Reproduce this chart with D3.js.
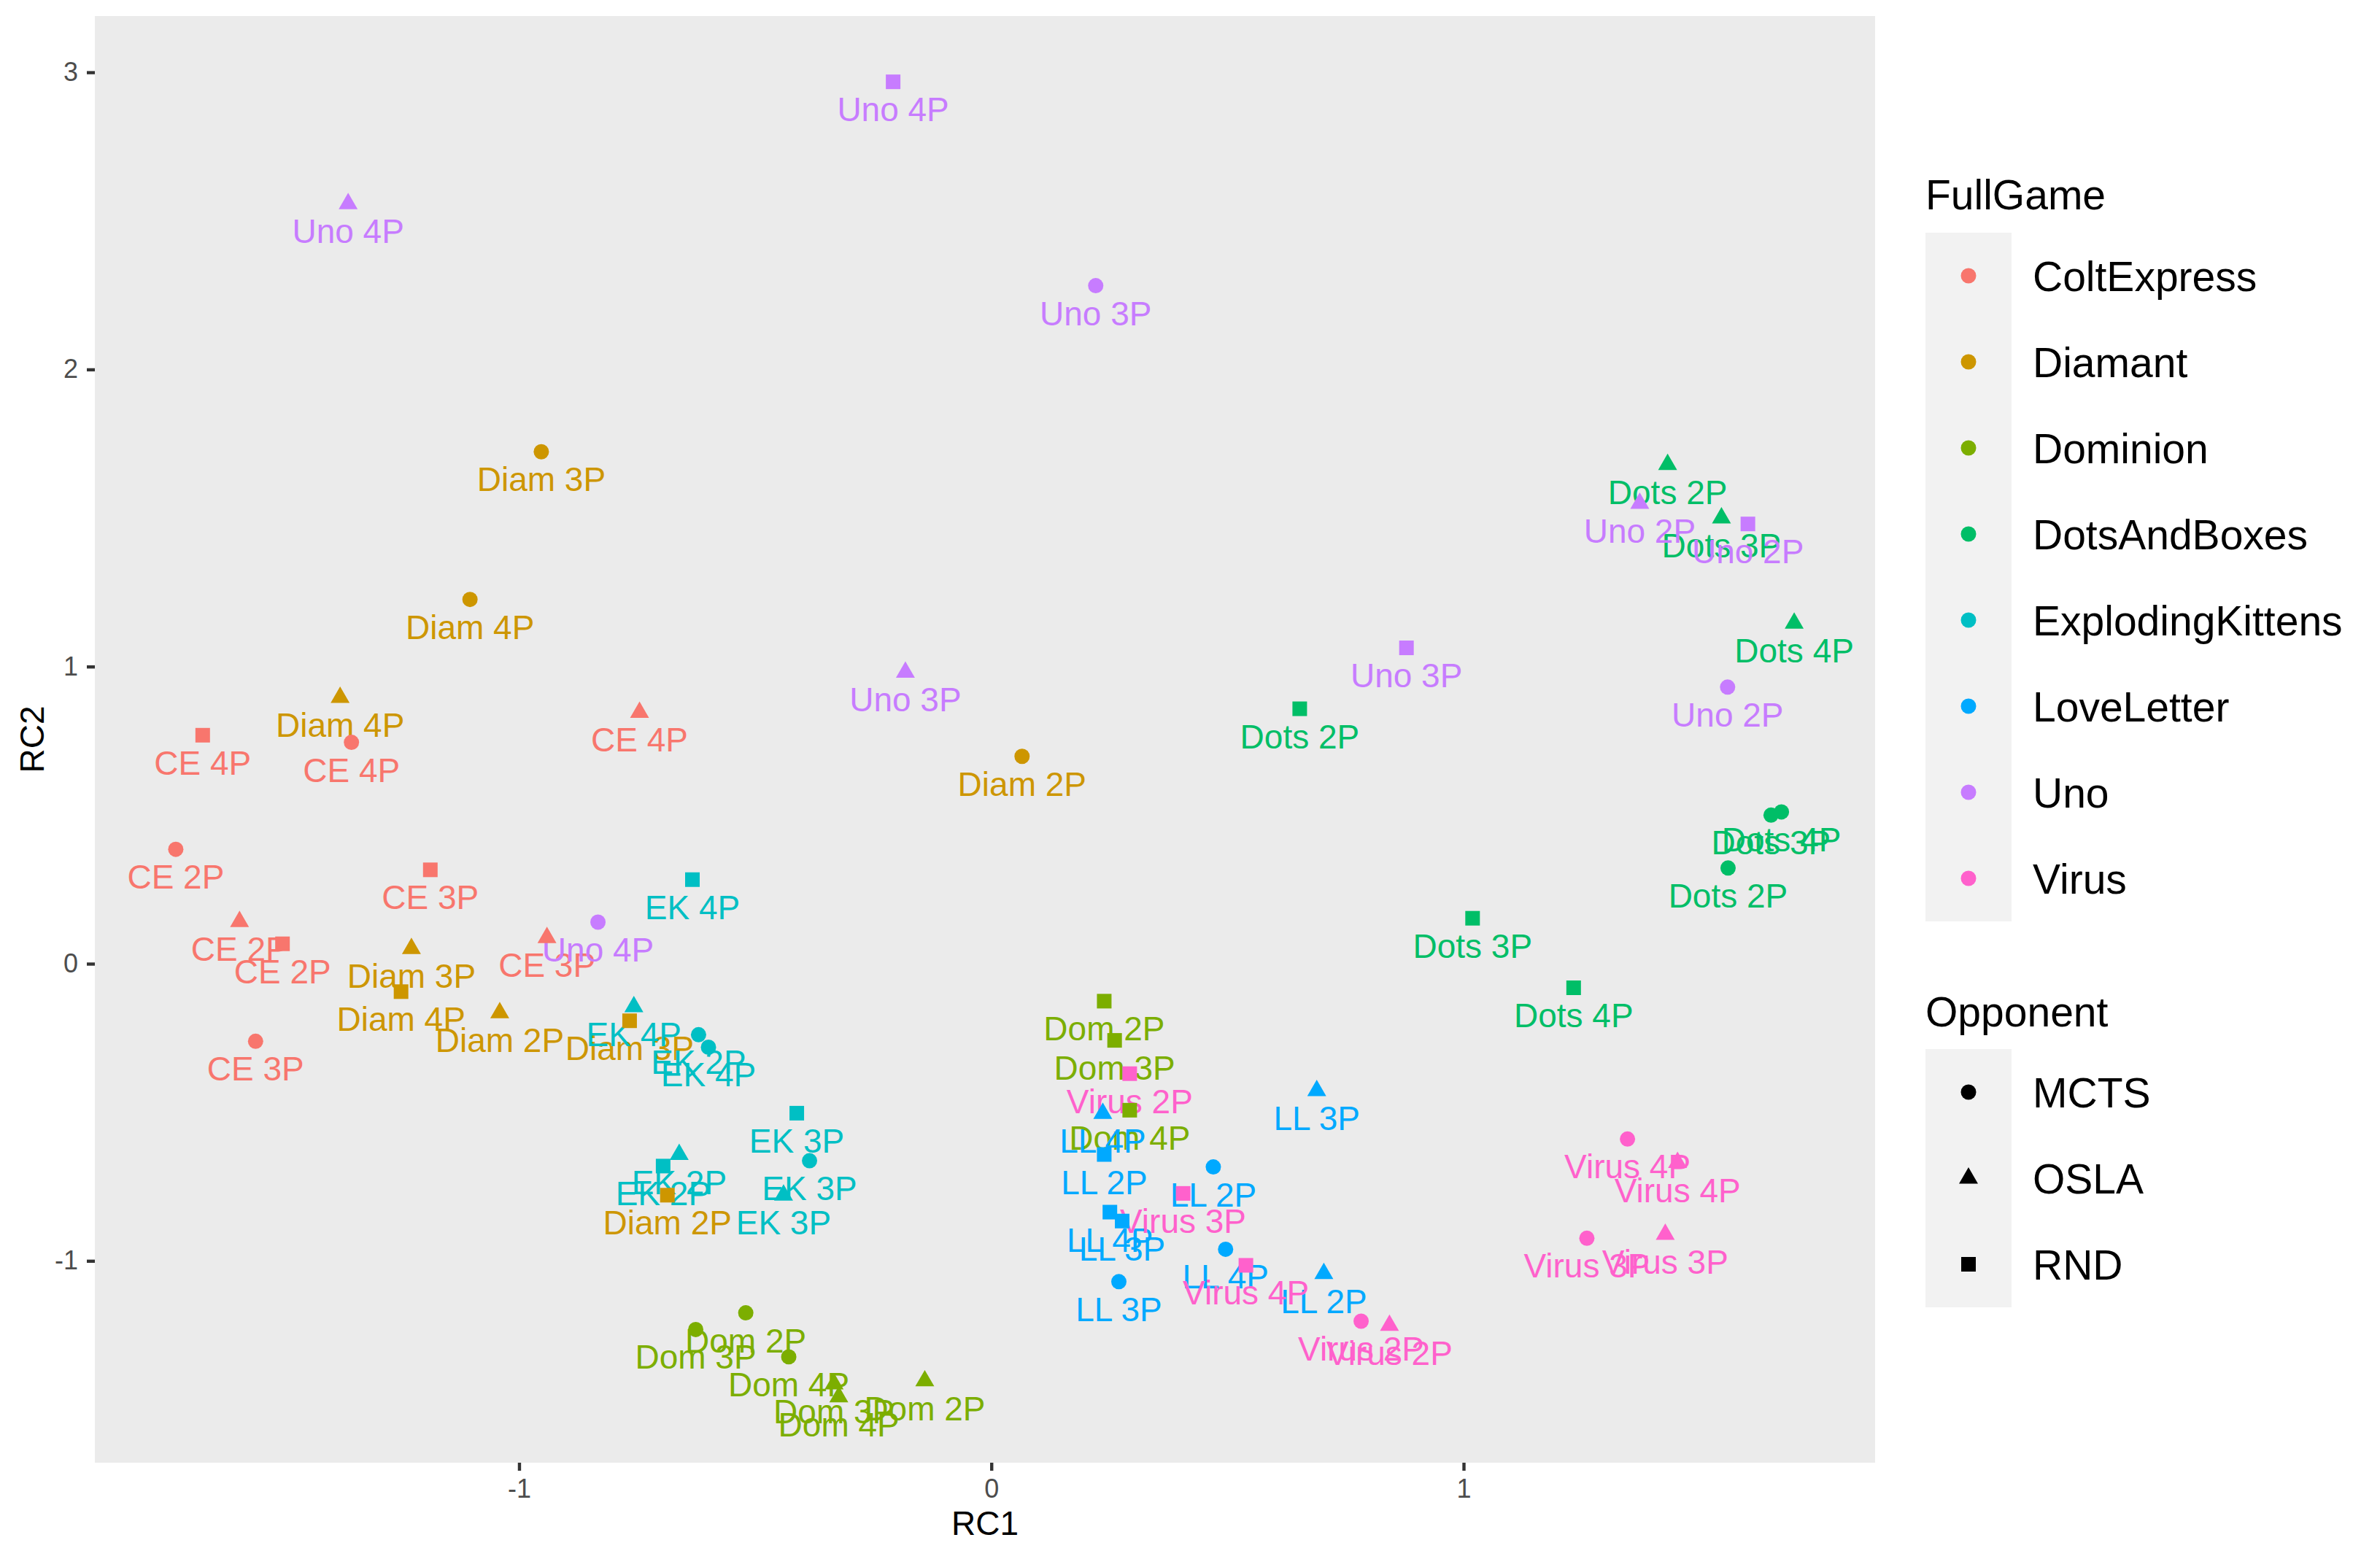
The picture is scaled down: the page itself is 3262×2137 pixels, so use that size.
<!DOCTYPE html>
<html>
<head>
<meta charset="utf-8">
<script src="https://cdn.jsdelivr.net/npm/d3@7"></script>
<style>
  html, body { margin: 0; padding: 0; background: #ffffff; }
  svg { display: block; }
  text { font-family: "Liberation Sans", Arial, sans-serif; }
</style>
</head>
<body>
<svg id="chart" width="3262" height="2137"></svg>
<script>
// ---------- data ----------
const games = ["ColtExpress", "Diamant", "Dominion", "DotsAndBoxes", "ExplodingKittens", "LoveLetter", "Uno", "Virus"];
const gameAbbr = ["CE", "Diam", "Dom", "Dots", "EK", "LL", "Uno", "Virus"];
const gameColors = ["#F8766D", "#CD9600", "#7CAE00", "#00BE67", "#00BFC4", "#00A9FF", "#C77CFF", "#FF61CC"];
const opponents = ["MCTS", "OSLA", "RND"];

// one entry per point
const pointGame = [
  "ColtExpress","ColtExpress","ColtExpress","ColtExpress","ColtExpress","ColtExpress","ColtExpress","ColtExpress","ColtExpress",
  "Diamant","Diamant","Diamant","Diamant","Diamant","Diamant","Diamant","Diamant","Diamant",
  "Dominion","Dominion","Dominion","Dominion","Dominion","Dominion","Dominion","Dominion","Dominion",
  "DotsAndBoxes","DotsAndBoxes","DotsAndBoxes","DotsAndBoxes","DotsAndBoxes","DotsAndBoxes","DotsAndBoxes","DotsAndBoxes","DotsAndBoxes",
  "ExplodingKittens","ExplodingKittens","ExplodingKittens","ExplodingKittens","ExplodingKittens","ExplodingKittens","ExplodingKittens","ExplodingKittens","ExplodingKittens",
  "LoveLetter","LoveLetter","LoveLetter","LoveLetter","LoveLetter","LoveLetter","LoveLetter","LoveLetter","LoveLetter",
  "Uno","Uno","Uno","Uno","Uno","Uno","Uno","Uno","Uno",
  "Virus","Virus","Virus","Virus","Virus","Virus","Virus","Virus","Virus"
];
const pointOpponent = [
  "MCTS","MCTS","MCTS","OSLA","OSLA","OSLA","RND","RND","RND",
  "MCTS","MCTS","MCTS","OSLA","OSLA","OSLA","RND","RND","RND",
  "MCTS","MCTS","MCTS","OSLA","OSLA","OSLA","RND","RND","RND",
  "MCTS","MCTS","MCTS","OSLA","OSLA","OSLA","RND","RND","RND",
  "MCTS","MCTS","MCTS","OSLA","OSLA","OSLA","RND","RND","RND",
  "MCTS","MCTS","MCTS","OSLA","OSLA","OSLA","RND","RND","RND",
  "MCTS","MCTS","MCTS","OSLA","OSLA","OSLA","RND","RND","RND",
  "MCTS","MCTS","MCTS","OSLA","OSLA","OSLA","RND","RND","RND"
];
const pointPlayers = [
  2,3,4,2,3,4,2,3,4, 2,3,4,2,3,4,2,3,4, 2,3,4,2,3,4,2,3,4, 2,3,4,2,3,4,2,3,4,
  2,3,4,2,3,4,2,3,4, 2,3,4,2,3,4,2,3,4, 2,3,4,2,3,4,2,3,4, 2,3,4,2,3,4,2,3,4
];
const rc1 = [
  -1.727, -1.558, -1.355, -1.592, -0.941, -0.745, -1.501, -1.188, -1.670,
   0.065, -0.953, -1.104, -1.041, -1.228, -1.379, -0.686, -0.766, -1.250,
  -0.520, -0.626, -0.429, -0.141, -0.333, -0.323,  0.239,  0.261,  0.293,
   1.560,  1.651,  1.673,  1.432,  1.546,  1.700,  0.653,  1.019,  1.233,
  -0.620, -0.385, -0.599, -0.661, -0.440, -0.757, -0.695, -0.412, -0.633,
   0.470,  0.270,  0.496,  0.704,  0.689,  0.236,  0.239,  0.277,  0.251,
   1.559,  0.221, -0.833,  1.373, -0.182, -1.362,  1.602,  0.879, -0.208,
   0.783,  1.261,  1.347,  0.843,  1.427,  1.453,  0.293,  0.406,  0.539
];
const rc2 = [
   0.385, -0.261,  0.745,  0.142,  0.088,  0.846,  0.067,  0.316,  0.769,
   0.698,  1.723,  1.226, -0.165,  0.051,  0.896, -0.779, -0.192, -0.094,
  -1.175, -1.231, -1.323, -1.404, -1.414, -1.458, -0.126, -0.258, -0.493,
   0.322,  0.500,  0.511,  1.680,  1.500,  1.146,  0.858,  0.153, -0.081,
  -0.239, -0.663, -0.281, -0.642, -0.779, -0.145, -0.681, -0.503,  0.283,
  -0.684, -1.070, -0.961, -1.043, -0.427, -0.504, -0.642, -0.866, -0.836,
   0.931,  2.282,  0.140,  1.549,  0.981,  2.558,  1.480,  1.063,  2.968,
  -1.203, -0.924, -0.590, -1.217, -0.911, -0.669, -0.370, -0.773, -1.015
];

const xTicks = [-1, 0, 1];
const yTicks = [-1, 0, 1, 2, 3];

// ---------- layout ----------
const svg = d3.select("#chart");
svg.append("rect").attr("width", 3262).attr("height", 2137).attr("fill", "#ffffff");

const panel = { left: 130, top: 22, right: 2570, bottom: 2005 };

function expanded(arr) {
  const [lo, hi] = d3.extent(arr);
  const pad = (hi - lo) * 0.05;
  return [lo - pad, hi + pad];
}
const x = d3.scaleLinear().domain(expanded(rc1)).range([panel.left, panel.right]);
const y = d3.scaleLinear().domain(expanded(rc2)).range([panel.bottom, panel.top]);

const color = d3.scaleOrdinal().domain(games).range(gameColors);
const shapeOf = d3.scaleOrdinal().domain(opponents)
  .range([d3.symbolCircle, d3.symbolTriangle, d3.symbolSquare]);
const sizeOf = d3.scaleOrdinal().domain(opponents).range([346, 292, 400]);

const data = rc1.map((v, i) => ({
  x: v, y: rc2[i], game: pointGame[i], opp: pointOpponent[i],
  label: gameAbbr[games.indexOf(pointGame[i])] + " " + pointPlayers[i] + "P"
}));

// panel background
svg.append("rect")
  .attr("x", panel.left).attr("y", panel.top)
  .attr("width", panel.right - panel.left).attr("height", panel.bottom - panel.top)
  .attr("fill", "#EBEBEB");

// axes
const xAxis = svg.append("g")
  .attr("transform", `translate(0,${panel.bottom})`)
  .call(d3.axisBottom(x).tickValues(xTicks).tickSize(11).tickPadding(11).tickFormat(d3.format("d")));
const yAxis = svg.append("g")
  .attr("transform", `translate(${panel.left},0)`)
  .call(d3.axisLeft(y).tickValues(yTicks).tickSize(11).tickPadding(12).tickFormat(d3.format("d")));
[xAxis, yAxis].forEach(g => {
  g.select(".domain").remove();
  g.selectAll(".tick line").attr("stroke", "#333333").attr("stroke-width", 4.4);
  g.selectAll(".tick text")
    .attr("fill", "#4D4D4D")
    .style("font-size", "36px")
    .style("font-family", '"Liberation Sans", Arial, sans-serif');
});
// use a plain hyphen-minus like the reference
svg.selectAll(".tick text").text(d => String(d));

// axis titles
svg.append("text")
  .attr("x", (panel.left + panel.right) / 2).attr("y", 2104)
  .attr("text-anchor", "middle").attr("fill", "#000000")
  .style("font-size", "46px").text("RC1");
svg.append("text")
  .attr("transform", `translate(60,${(panel.top + panel.bottom) / 2}) rotate(-90)`)
  .attr("text-anchor", "middle").attr("fill", "#000000")
  .style("font-size", "46px").text("RC2");

// labels (drawn below the points layer)
svg.append("g").selectAll("text")
  .data(data).join("text")
  .attr("x", d => x(d.x))
  .attr("y", d => y(d.y) + 54)
  .attr("text-anchor", "middle")
  .attr("fill", d => color(d.game))
  .style("font-size", "46px")
  .text(d => d.label);

// points
svg.append("g").selectAll("path")
  .data(data).join("path")
  .attr("transform", d => `translate(${x(d.x)},${y(d.y)})`)
  .attr("d", d => d3.symbol().type(shapeOf(d.opp)).size(sizeOf(d.opp))())
  .attr("fill", d => color(d.game));

// ---------- legends ----------
const legX = 2639, keyW = 118;
// FullGame
svg.append("text").attr("x", legX).attr("y", 287).attr("fill", "#000")
  .style("font-size", "57px").text("FullGame");
const g1Top = 319;
svg.append("rect").attr("x", legX).attr("y", g1Top)
  .attr("width", keyW).attr("height", keyW * games.length).attr("fill", "#F2F2F2");
const leg1 = svg.append("g").selectAll("g").data(games).join("g")
  .attr("transform", (d, i) => `translate(${legX + keyW / 2},${g1Top + keyW / 2 + i * keyW})`);
leg1.append("path")
  .attr("d", d3.symbol().type(d3.symbolCircle).size(346)())
  .attr("fill", d => color(d));
leg1.append("text")
  .attr("x", 2786 - (legX + keyW / 2)).attr("dy", "0.36em")
  .attr("fill", "#000").style("font-size", "57px").text(d => d);

// Opponent
svg.append("text").attr("x", legX).attr("y", 1407).attr("fill", "#000")
  .style("font-size", "57px").text("Opponent");
const g2Top = 1438;
svg.append("rect").attr("x", legX).attr("y", g2Top)
  .attr("width", keyW).attr("height", keyW * opponents.length).attr("fill", "#F2F2F2");
const leg2 = svg.append("g").selectAll("g").data(opponents).join("g")
  .attr("transform", (d, i) => `translate(${legX + keyW / 2},${g2Top + keyW / 2 + i * keyW})`);
leg2.append("path")
  .attr("d", d => d3.symbol().type(shapeOf(d)).size(sizeOf(d))())
  .attr("fill", "#000");
leg2.append("text")
  .attr("x", 2786 - (legX + keyW / 2)).attr("dy", "0.36em")
  .attr("fill", "#000").style("font-size", "57px").text(d => d);
</script>
</body>
</html>
